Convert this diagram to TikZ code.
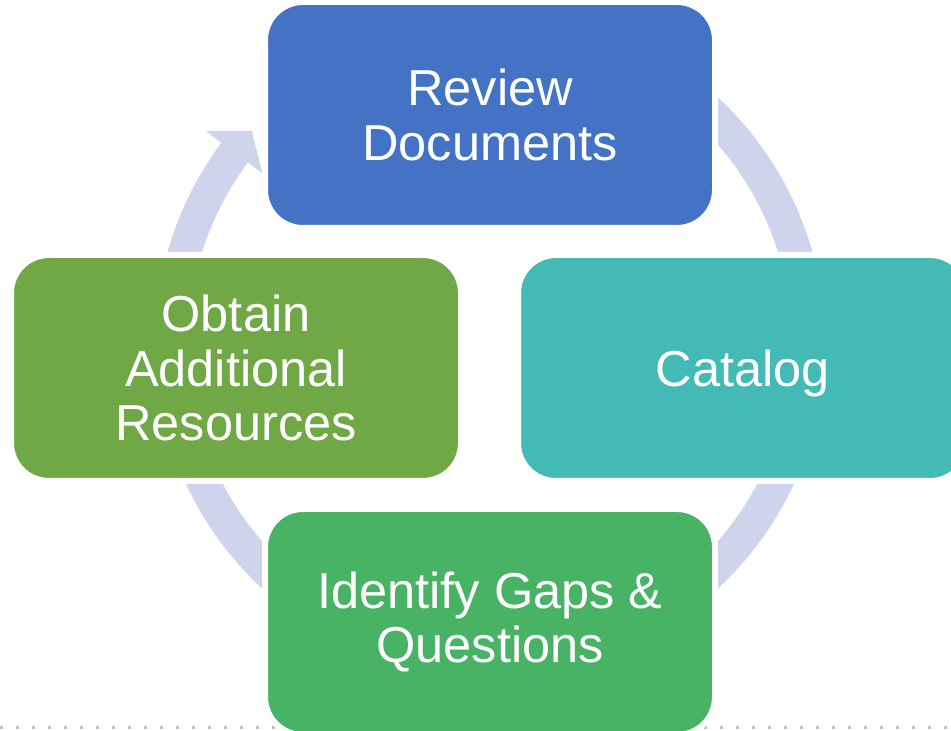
\documentclass[tikz,border=0pt]{standalone}
\usepackage{fontspec}
\setmainfont{Liberation Sans}
\definecolor{ringblue}{RGB}{206,212,235}
\definecolor{boxblue}{RGB}{68,114,196}
\definecolor{boxteal}{RGB}{67,186,182}
\definecolor{boxgreen}{RGB}{72,179,101}
\definecolor{boxolive}{RGB}{112,168,69}
\definecolor{dotgray}{RGB}{191,191,191}
\begin{document}
\begin{tikzpicture}[x=1pt,y=1pt,line join=round,font=\fontsize{50.5}{54.5}\selectfont,
	box/.style={rectangle,rounded corners=38pt,minimum width=450pt,minimum height=226pt,draw=white,line width=6pt,text=white,align=center,inner sep=0pt},
	declare function={ri=302;ro=335;wi=284;wo=355;rm=319;}]
	\useasboundingbox (0,0) rectangle (951,731);
	\path
	(490,388) coordinate (C)
	(490,616) coordinate (T)
	(743,363) coordinate (R)
	(490,109) coordinate (B)
	(236,363) coordinate (L);
	% dotted rule along the bottom
	\draw[dotgray,line width=3pt,dash pattern=on 3pt off 13pt] (0,3.5) -- (951,3.5);
	% circular arrow behind the boxes
	\fill[ringblue] ([shift={(C)}]143.3:ri) -- ([shift={(C)}]143.3:wi) -- ([shift={(C)}]138.3:rm) -- ([shift={(C)}]143.3:wo) -- ([shift={(C)}]143.3:ro)
	arc[start angle=143.3,end angle=460,radius=ro] -- ([shift={(C)}]460:ri)
	arc[start angle=460,end angle=143.3,radius=ri] -- cycle;
	\node[box,fill=boxblue] (review) at (T) {Review\\Documents};
	\node[box,fill=boxteal,text depth=0pt] (catalog) at (R) {Catalog};
	\node[box,fill=boxgreen] (gaps) at (B) {Identify Gaps \&\\Questions};
	\node[box,fill=boxolive] (obtain) at (L) {Obtain\\Additional\\Resources};
\end{tikzpicture}
\end{document}
